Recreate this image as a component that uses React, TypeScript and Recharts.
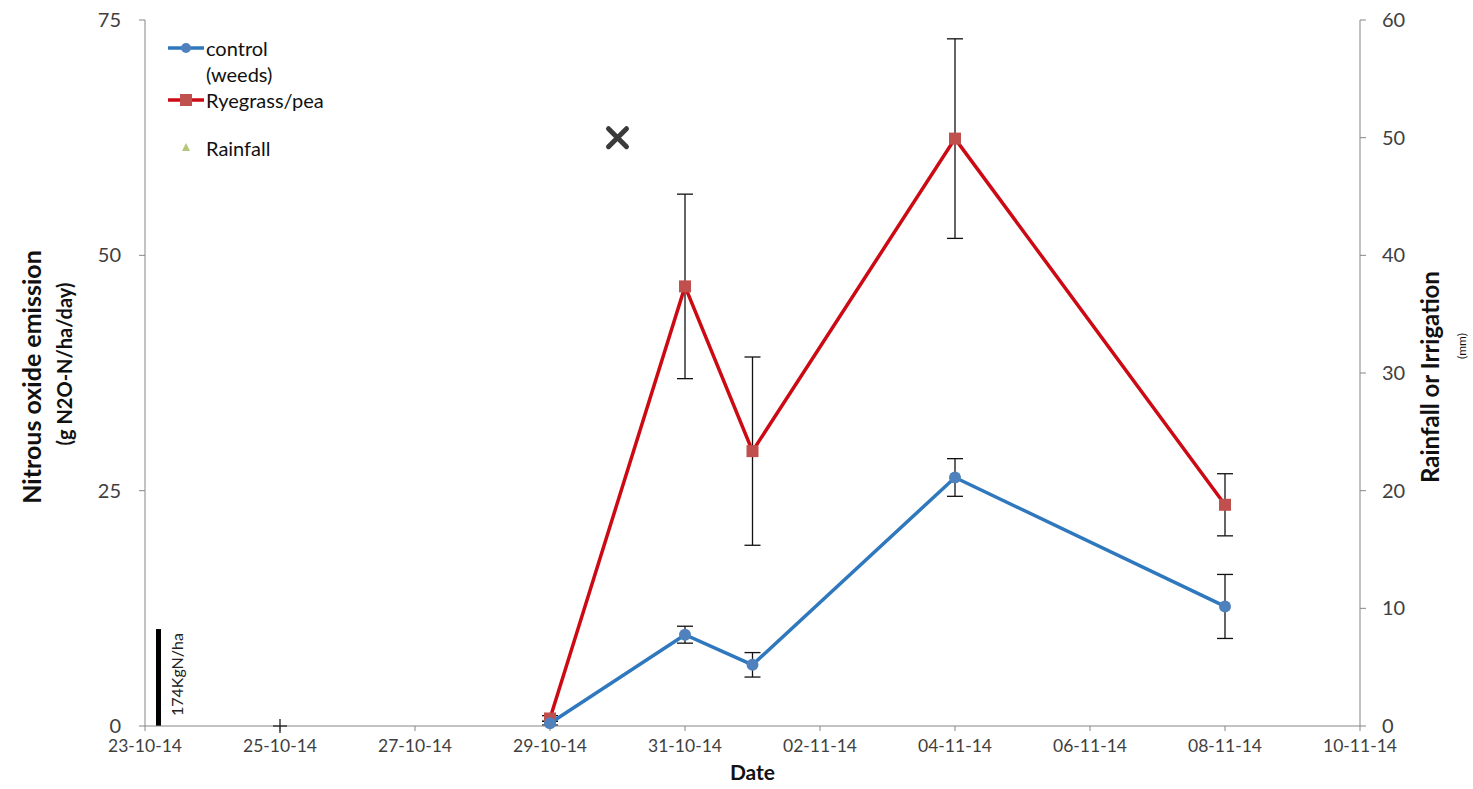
import { ComposedChart, Line, Scatter, XAxis, YAxis, ErrorBar, ReferenceLine } from 'recharts';

// days counted from 23-10-14
const sampleDays = [6, 8, 9, 12, 16];
const controlValues = [0.3, 9.7, 6.5, 26.4, 12.7];
const controlErrors = [0.2, 0.9, 1.3, 2.0, 3.4];
const ryegrassValues = [0.8, 46.7, 29.2, 62.4, 23.5];
const ryegrassErrors = [0.3, 9.8, 10.0, 10.6, 3.3];

const rainDays = [2, 7];
const rainValues = [0, 50];
const rainMarkers = ['plus', 'cross'];

const xTicks = [0, 2, 4, 6, 8, 10, 12, 14, 16, 18];
const xTickLabels = ['23-10-14', '25-10-14', '27-10-14', '29-10-14', '31-10-14', '02-11-14', '04-11-14', '06-11-14', '08-11-14', '10-11-14'];
const leftTicks = [0, 25, 50, 75];
const rightTicks = [0, 10, 20, 30, 40, 50, 60];

const fertDay = 0.2;
const fertHeight = 10.3;
const fertLabel = '174KgN/ha';

const controlData = sampleDays.map((day, i) => ({ day, value: controlValues[i], err: controlErrors[i] }));
const ryegrassData = sampleDays.map((day, i) => ({ day, value: ryegrassValues[i], err: ryegrassErrors[i] }));
const rainData = rainDays.map((day, i) => ({ day, rain: rainValues[i], marker: rainMarkers[i] }));

const FONT = 'Lato, "Liberation Sans", sans-serif';
const AXIS = '#868686';
const TEXT = '#404040';
const BLUE = '#2F78BE';
const BLUE_DOT = '#4F81BD';
const RED = '#CC0A14';
const RED_DOT = '#C0504D';

function SquareDot(props: any) {
  const { cx, cy, index } = props;
  if (cx == null || cy == null) return null;
  return <rect key={`sq-${index}`} x={cx - 6} y={cy - 6} width={12} height={12} fill={RED_DOT} />;
}

function RainShape(props: any) {
  const { cx, cy, payload } = props;
  if (payload.marker === 'cross') {
    return (
      <g stroke="#3a3a3a" strokeWidth={5} strokeLinecap="round">
        <line x1={cx - 9} y1={cy - 9} x2={cx + 9} y2={cy + 9} />
        <line x1={cx - 9} y1={cy + 9} x2={cx + 9} y2={cy - 9} />
      </g>
    );
  }
  return (
    <g stroke="#222" strokeWidth={1.3}>
      <line x1={cx - 7} y1={cy} x2={cx + 7} y2={cy} />
      <line x1={cx} y1={cy - 7} x2={cx} y2={cy + 7} />
    </g>
  );
}

function LeftTitle(props: any) {
  const { viewBox } = props;
  const cy = viewBox.y + viewBox.height / 2;
  return (
    <g fontFamily={FONT} fontWeight="bold" fill="#111">
      <text x={0} y={0} transform={`translate(41, ${cy + 4}) rotate(-90)`} textAnchor="middle" fontSize={25}>
        Nitrous oxide emission
      </text>
      <text x={0} y={0} transform={`translate(72, ${cy - 9}) rotate(-90)`} textAnchor="middle" fontSize={20}>
        (g N2O-N/ha/day)
      </text>
    </g>
  );
}

function RightTitle(props: any) {
  const { viewBox } = props;
  const cy = viewBox.y + viewBox.height / 2;
  return (
    <g fontFamily={FONT} fill="#111">
      <text x={0} y={0} transform={`translate(1439, ${cy + 4}) rotate(-90)`} textAnchor="middle" fontSize={24} fontWeight="bold">
        Rainfall or Irrigation
      </text>
      <text x={0} y={0} transform={`translate(1466, ${cy - 27}) rotate(-90)`} textAnchor="middle" fontSize={12}>
        (mm)
      </text>
    </g>
  );
}

function FertLabel(props: any) {
  const { viewBox } = props;
  const x = viewBox.x + 24;
  const cy = viewBox.y + viewBox.height / 2 - 3;
  return (
    <text x={0} y={0} transform={`translate(${x}, ${cy}) rotate(-90)`} textAnchor="middle" fontSize={16} fontFamily={FONT} fill="#222">
      {fertLabel}
    </text>
  );
}

function LegendBox() {
  const row = { display: 'flex', alignItems: 'center', height: 26 } as const;
  const txt = { fontSize: 20, color: '#111', lineHeight: '26px' } as const;
  return (
    <div style={{ position: 'absolute', left: 166, top: 35, fontFamily: FONT }}>
      <div style={row}>
        <svg width={40} height={26}>
          <line x1={2} y1={13} x2={38} y2={13} stroke={BLUE} strokeWidth={3.5} />
          <circle cx={20} cy={13} r={5} fill={BLUE_DOT} />
        </svg>
        <span style={txt}>control</span>
      </div>
      <div style={{ ...row, paddingLeft: 40 }}>
        <span style={txt}>(weeds)</span>
      </div>
      <div style={row}>
        <svg width={40} height={26}>
          <line x1={2} y1={13} x2={38} y2={13} stroke={RED} strokeWidth={3.5} />
          <rect x={14} y={7} width={12} height={12} fill={RED_DOT} />
        </svg>
        <span style={txt}>Ryegrass/pea</span>
      </div>
      <div style={{ ...row, marginTop: 22 }}>
        <svg width={40} height={26}>
          <polygon points="20,8 24,16 16,16" fill="#B5C77A" />
        </svg>
        <span style={txt}>Rainfall</span>
      </div>
    </div>
  );
}

export default function App() {
  return (
    <div style={{ position: 'absolute', left: 0, top: 0, width: 1473, height: 789, background: '#fff' }}>
      <ComposedChart width={1473} height={789} margin={{ top: 20, right: 53, bottom: 33, left: 85 }}>
        <XAxis
          type="number"
          dataKey="day"
          domain={[0, 18]}
          ticks={xTicks}
          tickFormatter={(v: number) => xTickLabels[xTicks.indexOf(v)]}
          height={30}
          axisLine={{ stroke: AXIS }}
          tickLine={{ stroke: AXIS }}
          tickSize={5}
          tickMargin={9}
          tick={{ fill: TEXT, fontSize: 17.5, fontFamily: FONT }}
          label={{ value: 'Date', position: 'insideBottom', offset: -24, fontSize: 21, fontWeight: 'bold', fill: '#111', fontFamily: FONT }}
          allowDataOverflow
        />
        <YAxis
          yAxisId="left"
          domain={[0, 75]}
          ticks={leftTicks}
          width={60}
          axisLine={{ stroke: AXIS }}
          tickLine={{ stroke: AXIS }}
          tickSize={6}
          tickMargin={18}
          tick={{ fill: TEXT, fontSize: 20, fontFamily: FONT }}
          label={{ content: LeftTitle }}
        />
        <YAxis
          yAxisId="right"
          orientation="right"
          domain={[0, 60]}
          ticks={rightTicks}
          width={60}
          axisLine={{ stroke: AXIS }}
          tickLine={{ stroke: AXIS }}
          tickSize={6}
          tickMargin={16}
          tick={{ fill: TEXT, fontSize: 20, fontFamily: FONT }}
          label={{ content: RightTitle }}
        />
        <ReferenceLine
          yAxisId="left"
          segment={[{ x: fertDay, y: 0 }, { x: fertDay, y: fertHeight }]}
          stroke="#000"
          strokeWidth={5}
          label={{ content: FertLabel }}
        />
        <Line
          yAxisId="left"
          data={ryegrassData}
          dataKey="value"
          stroke={RED}
          strokeWidth={3.5}
          dot={SquareDot}
          activeDot={false}
          isAnimationActive={false}
        >
          <ErrorBar dataKey="err" direction="y" width={8} stroke="#111" strokeWidth={1.3} />
        </Line>
        <Line
          yAxisId="left"
          data={controlData}
          dataKey="value"
          stroke={BLUE}
          strokeWidth={3.5}
          dot={{ r: 6, fill: BLUE_DOT, stroke: 'none' }}
          activeDot={false}
          isAnimationActive={false}
        >
          <ErrorBar dataKey="err" direction="y" width={8} stroke="#111" strokeWidth={1.3} />
        </Line>
        <Scatter yAxisId="right" data={rainData} dataKey="rain" shape={RainShape} isAnimationActive={false} />
      </ComposedChart>
      <LegendBox />
    </div>
  );
}
